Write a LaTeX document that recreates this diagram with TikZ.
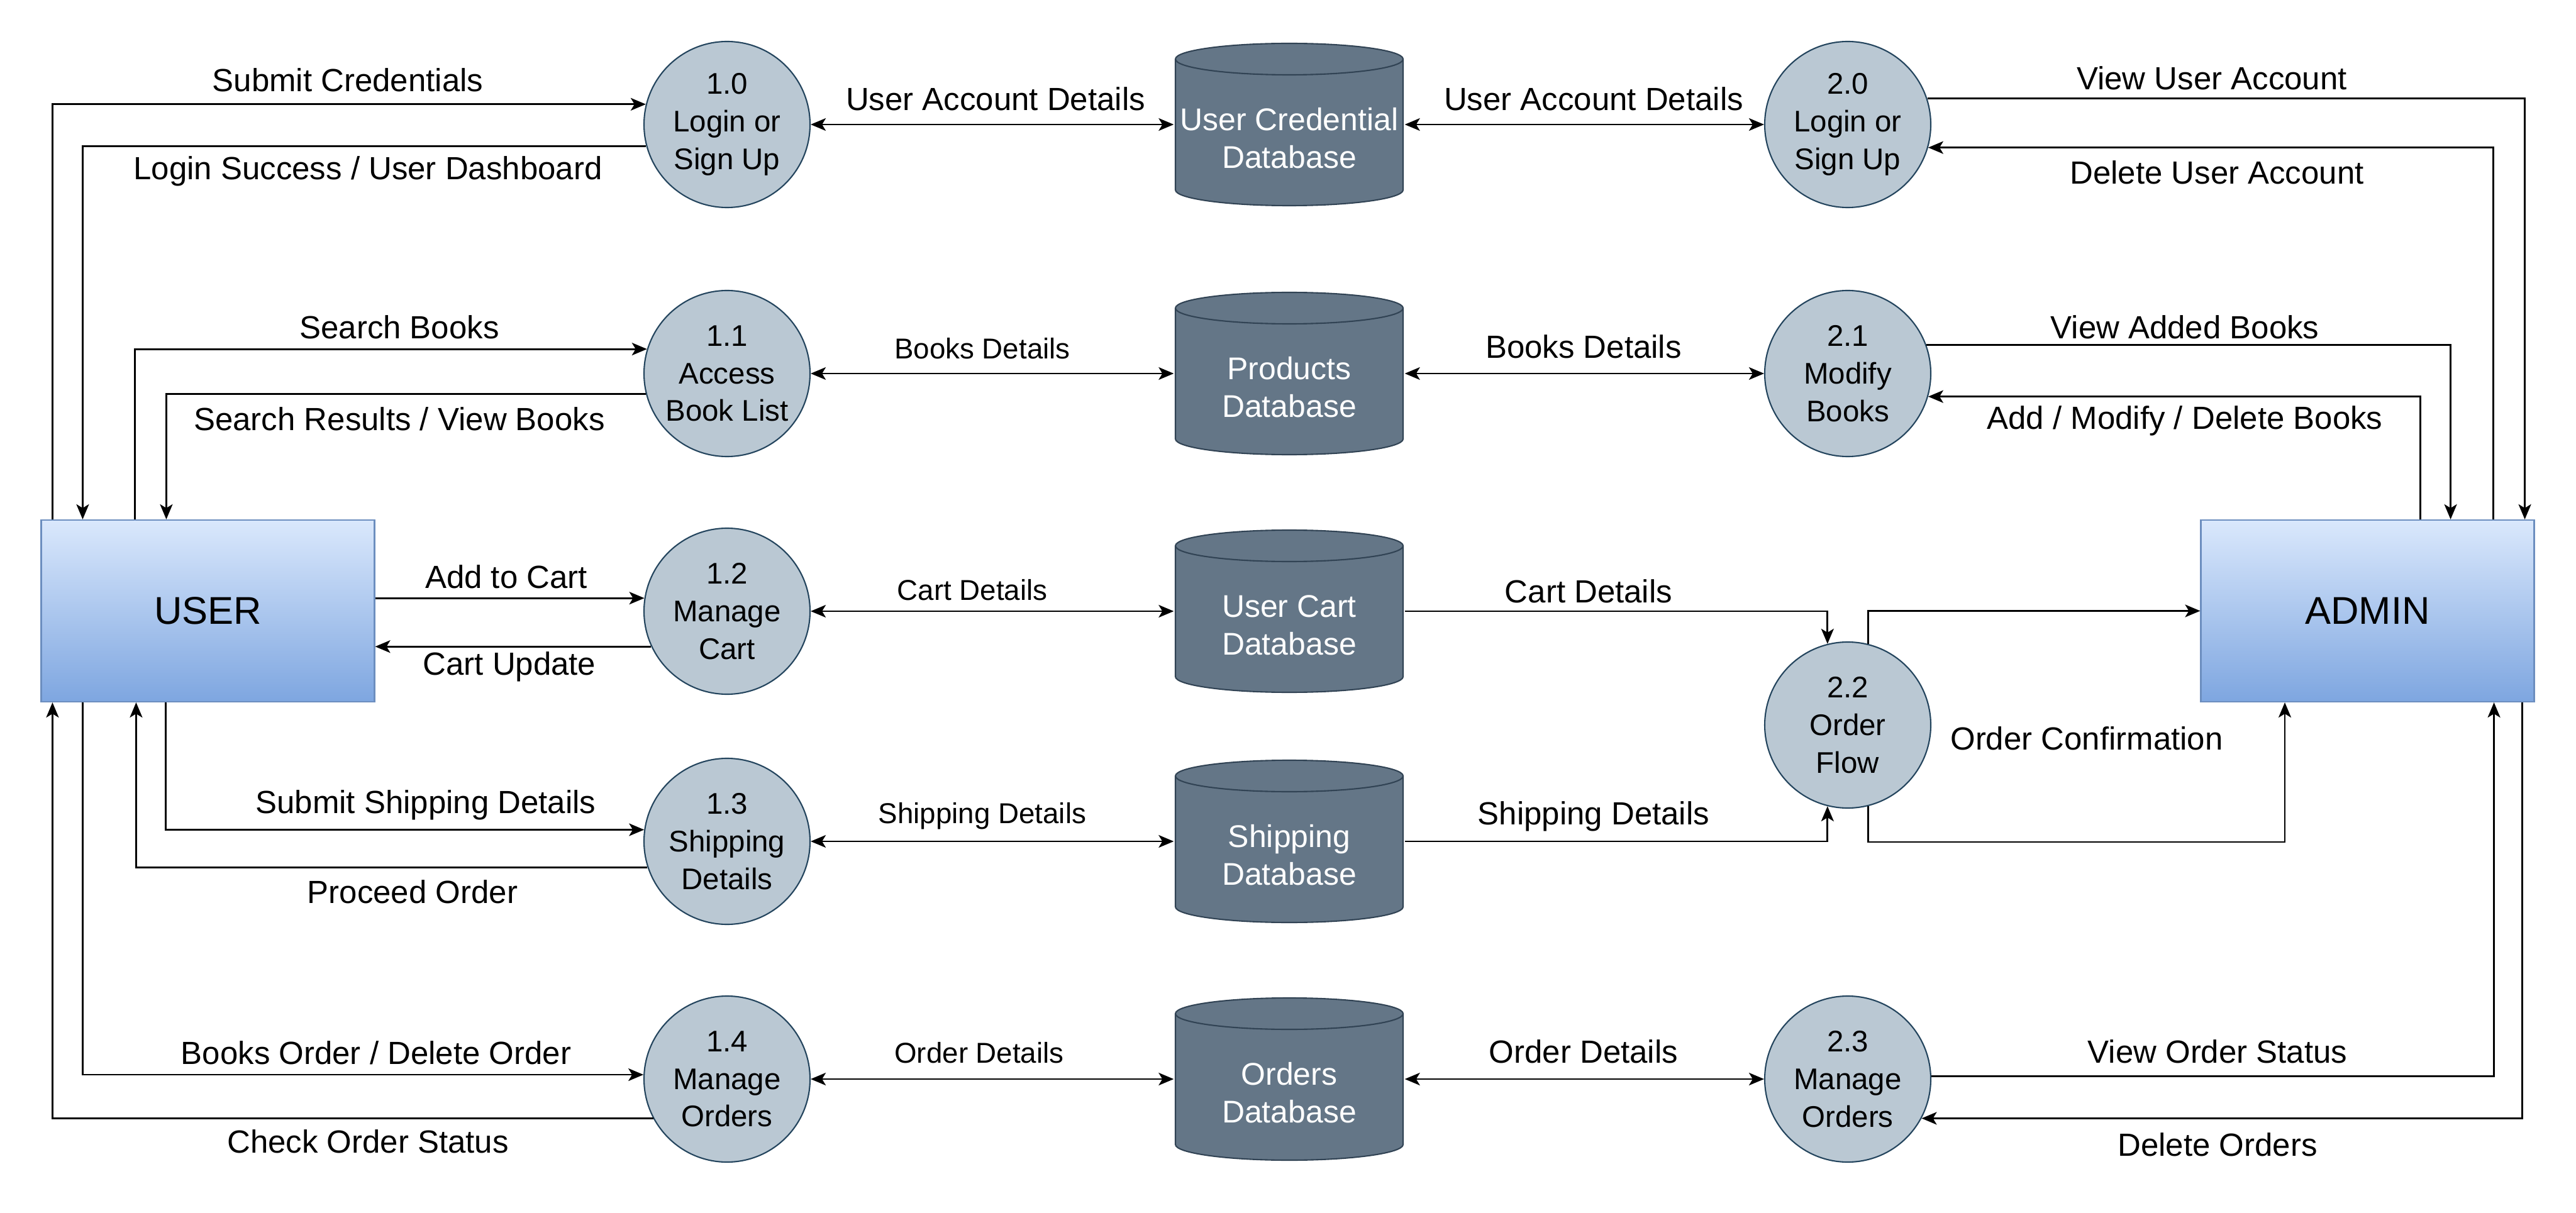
\documentclass[tikz,border=0pt]{standalone}
\usepackage{fontspec}
\setmainfont{Liberation Sans}
\usetikzlibrary{arrows.meta}
\definecolor{procfill}{HTML}{BAC8D3}
\definecolor{procline}{HTML}{23445D}
\definecolor{dbfill}{HTML}{647687}
\definecolor{dbline}{HTML}{314354}
\definecolor{enttop}{HTML}{DAE8FC}
\definecolor{entbot}{HTML}{7EA6E0}
\definecolor{entline}{HTML}{6C8EBF}
\begin{document}
\begin{tikzpicture}[x=1cm,y=1cm,
 proc/.style={circle, fill=procfill, draw=procline, line width=0.6pt, minimum size=2.64cm, inner sep=0pt, align=center, font=\fontsize{13.5}{17}\selectfont},
 ent/.style={rectangle, top color=enttop, bottom color=entbot, draw=entline, line width=0.6pt, minimum width=5.3cm, minimum height=2.89cm, font=\fontsize{17.5}{21}\selectfont},
 db/.style={rectangle, minimum width=3.66cm, minimum height=2.64cm, inner sep=0pt,
   path picture={
     \filldraw[fill=dbfill, draw=dbline, line width=0.6pt]
       ([shift={(-1.81,1.04)}]path picture bounding box.center) -- ++(0,-2.08)
       arc[start angle=180, end angle=360, x radius=1.81, y radius=0.25]
       -- ++(0,2.08)
       arc[start angle=0, end angle=180, x radius=1.81, y radius=0.25] -- cycle;
     \draw[dbline, line width=0.6pt] ([shift={(-1.81,1.04)}]path picture bounding box.center)
       arc[start angle=180, end angle=360, x radius=1.81, y radius=0.25];
   }},
 dbtext/.style={text=white, align=center, font=\fontsize{14.2}{17}\selectfont, yshift=-0.22cm},
 lbl/.style={font=\fontsize{14.5}{17}\selectfont, inner sep=1pt},
 slbl/.style={font=\fontsize{13}{16}\selectfont, inner sep=1pt},
 flow/.style={line width=0.8pt, -{Stealth[length=0.24cm, width=0.2cm, inset=0.06cm]}},
 both/.style={line width=0.8pt, {Stealth[length=0.24cm, width=0.2cm, inset=0.06cm]}-{Stealth[length=0.24cm, width=0.2cm, inset=0.06cm]}},
]
\useasboundingbox (0,0) rectangle (40.96,-19.29);

% external entities
\node[ent] (user) at (3.305,-9.715) {USER};
\node[ent] (admin) at (37.645,-9.715) {ADMIN};

% processes
\node[proc] (p10) at (11.56,-1.98) {1.0\\Login or\\Sign Up};
\node[proc] (p11) at (11.56,-5.94) {1.1\\Access\\Book List};
\node[proc] (p12) at (11.56,-9.72) {1.2\\Manage\\Cart};
\node[proc] (p13) at (11.56,-13.38) {1.3\\Shipping\\Details};
\node[proc] (p14) at (11.56,-17.16) {1.4\\Manage\\Orders};
\node[proc] (p20) at (29.38,-1.98) {2.0\\Login or\\Sign Up};
\node[proc] (p21) at (29.38,-5.94) {2.1\\Modify\\Books};
\node[proc] (p22) at (29.38,-11.53) {2.2\\Order\\Flow};
\node[proc] (p23) at (29.38,-17.16) {2.3\\Manage\\Orders};

% data stores
\node[db, label={[dbtext, name=d1t]center:User Credential\\Database}] (d1) at (20.50,-1.98) {};
\node[db, label={[dbtext, name=d2t]center:Products\\Database}] (d2) at (20.50,-5.94) {};
\node[db, label={[dbtext, name=d3t]center:User Cart\\Database}] (d3) at (20.50,-9.72) {};
\node[db, label={[dbtext, name=d4t]center:Shipping\\Database}] (d4) at (20.50,-13.38) {};
\node[db, label={[dbtext, name=d5t]center:Orders\\Database}] (d5) at (20.50,-17.16) {};

% row 0
\draw[flow] ([xshift=0.19cm]user.north west) |- (p10.166);
\draw[flow] (p10.195) -| ([xshift=0.67cm]user.north west);
\draw[both] (p10) -- (d1);
\draw[both] (d1) -- (p20);
\draw[flow] (p20.18) -| ([xshift=-0.16cm]admin.north east);
\draw[flow] ([xshift=-0.66cm]admin.north east) |- (p20.344);

% row 1
\draw[flow] ([xshift=1.5cm]user.north west) |- (p11.163);
\draw[flow] (p11.194) -| ([xshift=2.0cm]user.north west);
\draw[both] (p11) -- (d2);
\draw[both] (d2) -- (p21);
\draw[flow] (p21.20) -| ([xshift=-1.34cm]admin.north east);
\draw[flow] ([xshift=-1.82cm]admin.north east) |- (p21.344);

% row 2
\draw[flow] (p12.171 -| user.east) -- (p12.171);
\draw[flow] (p12.205) -- (p12.205 -| user.east);
\draw[both] (p12) -- (d3);
\draw[flow] (d3.east) -| (p22.104);
\draw[flow] (p22.76) |- (admin.west);
\coordinate (oc) at (36.33,-13.39);
\draw[flow] (p22.284) |- (oc) -- (oc |- admin.south);

% row 3
\draw[flow] ([xshift=1.99cm]user.south west) |- (p13.172);
\draw[flow] (p13.198) -| ([xshift=1.52cm]user.south west);
\draw[both] (p13) -- (d4);
\draw[flow] (d4.east) -| (p22.256);

% row 4
\draw[flow] ([xshift=0.67cm]user.south west) |- (p14.177);
\draw[flow] (p14.208) -| ([xshift=0.19cm]user.south west);
\draw[both] (p14) -- (d5);
\draw[both] (d5) -- (p23);
\draw[flow] (p23.2) -| ([xshift=-0.65cm]admin.south east);
\draw[flow] ([xshift=-0.2cm]admin.south east) |- (p23.332);

% labels
\node[lbl] (l1) at (5.53,-1.27) {Submit Credentials};
\node[lbl] (l2) at (5.85,-2.72) {Login Success / User Dashboard};
\node[lbl] (l3) at (15.83,-1.57) {User Account Details};
\node[lbl] (l4) at (25.34,-1.57) {User Account Details};
\node[lbl] (l5) at (35.17,-1.24) {View User Account};
\node[lbl] (l6) at (35.25,-2.74) {Delete User Account};
\node[lbl] (l7) at (6.35,-5.20) {Search Books};
\node[lbl] (l8) at (6.35,-6.66) {Search Results / View Books};
\node[slbl] (l9) at (15.62,-5.54) {Books Details};
\node[lbl] (l10) at (25.18,-5.51) {Books Details};
\node[lbl] (l11) at (34.74,-5.20) {View Added Books};
\node[lbl] (l12) at (34.74,-6.69) {Add / Modify / Delete Books};
\node[lbl] (l13) at (8.05,-9.17) {Add to Cart};
\node[lbl] (l14) at (8.10,-10.60) {Cart Update};
\node[slbl] (l15) at (15.46,-9.38) {Cart Details};
\node[lbl] (l16) at (25.26,-9.40) {Cart Details};
\node[lbl] (l17) at (33.18,-11.74) {Order Confirmation};
\node[lbl] (l18) at (6.77,-12.80) {Submit Shipping Details};
\node[lbl] (l19) at (6.56,-14.18) {Proceed Order};
\node[slbl] (l20) at (15.62,-12.98) {Shipping Details};
\node[lbl] (l21) at (25.34,-12.98) {Shipping Details};
\node[lbl] (l22) at (5.98,-16.74) {Books Order / Delete Order};
\node[lbl] (l23) at (5.85,-18.15) {Check Order Status};
\node[slbl] (l24) at (15.57,-16.74) {Order Details};
\node[lbl] (l25) at (25.18,-16.72) {Order Details};
\node[lbl] (l26) at (35.26,-16.72) {View Order Status};
\node[lbl] (l27) at (35.26,-18.20) {Delete Orders};
\end{tikzpicture}
\end{document}
